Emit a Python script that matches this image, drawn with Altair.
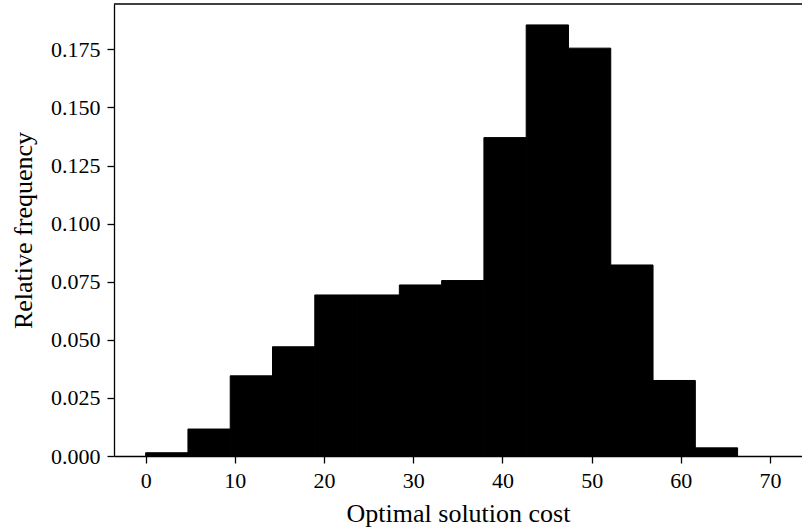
import altair as alt
import pandas as pd

bin_start = [0.0, 4.74, 9.48, 14.22, 18.96, 23.70, 28.44, 33.18, 37.92, 42.66, 47.40, 52.14, 56.88, 61.62]
bin_end = [4.74, 9.48, 14.22, 18.96, 23.70, 28.44, 33.18, 37.92, 42.66, 47.40, 52.14, 56.88, 61.62, 66.36]
freq = [0.0014, 0.0116, 0.0345, 0.0470, 0.0693, 0.0693, 0.0736, 0.0755, 0.1370, 0.1855, 0.1755, 0.0822, 0.0325, 0.0035]
x_ticks = [0, 10, 20, 30, 40, 50, 60, 70]
y_ticks = [0.0, 0.025, 0.05, 0.075, 0.1, 0.125, 0.15, 0.175]

df = pd.DataFrame({"start": bin_start, "end": bin_end, "freq": freq})

W, H = 688, 452
FONT = "Liberation Serif"

xscale = alt.Scale(domain=[-3.55, 73.58], nice=False, zero=False)
yscale = alt.Scale(domain=[0, 0.1945], nice=False, zero=False)

bars = alt.Chart(df).mark_rect(color="black", stroke="black", strokeWidth=1.0).encode(
    x=alt.X("start:Q", scale=xscale,
            axis=alt.Axis(values=x_ticks, title="Optimal solution cost", format="d")),
    x2="end:Q",
    y=alt.Y("freq:Q", scale=yscale,
            axis=alt.Axis(values=y_ticks, title="Relative frequency", format=".3f")),
    y2=alt.datum(0),
)

top = alt.Chart(pd.DataFrame({"a": [0]})).mark_rule(color="black", strokeWidth=1.3).encode(
    x=alt.value(0), x2=alt.value(W), y=alt.value(0)
)

chart = alt.layer(bars, top).properties(
    width=W, height=H,
    autosize=alt.AutoSizeParams(type="none"),
    padding={"left": 114, "top": 4, "right": 0, "bottom": 73},
).configure_view(stroke=None).configure_axis(
    grid=False,
    domainColor="black", domainWidth=1.3,
    tickColor="black", tickWidth=1.3, tickSize=7,
    labelFont=FONT, labelFontSize=22, labelColor="black", labelPadding=7,
    titleFont=FONT, titleFontSize=26, titleFontWeight="normal", titleColor="black",
).configure_axisY(titlePadding=14).configure_axisX(titlePadding=9)

chart.save("out.html", embed_options={"renderer": "svg", "actions": False})
